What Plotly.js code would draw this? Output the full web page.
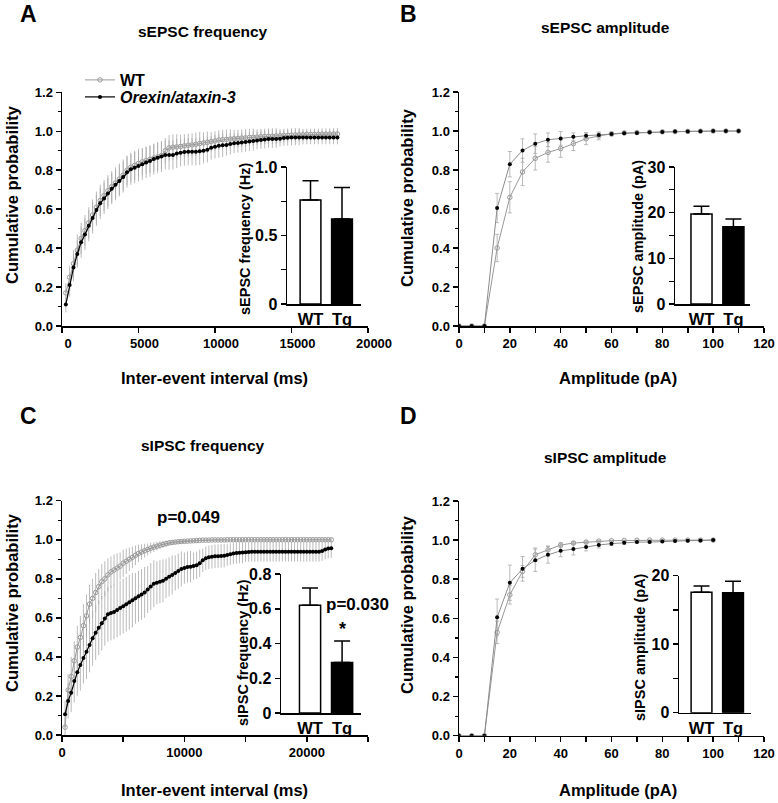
<!DOCTYPE html>
<html>
<head>
<meta charset="utf-8">
<script src="https://cdn.plot.ly/plotly-3.0.1.min.js"></script>
<style>
  html, body { margin: 0; padding: 0; background: #fff; }
  #fig { width: 778px; height: 803px; }
</style>
</head>
<body>
<div id="fig"></div>
<script>
/* ── data ─────────────────────────────────────────────── */

// A: sEPSC inter-event interval, 250 ms bins
const epscFreqX = Array.from({ length: 72 }, (_, i) => (i + 1) * 250);
const epscFreqWT = [0.17,0.25,0.32,0.39,0.45,0.49,0.53,0.57,0.61,0.645,
  0.67,0.695,0.715,0.735,0.755,0.775,0.80,0.815,0.825,0.835,
  0.843,0.85,0.856,0.862,0.868,0.875,0.90,0.915,0.918,0.92,
  0.922,0.925,0.928,0.93,0.933,0.937,0.94,0.943,0.947,0.95,
  0.955,0.957,0.958,0.96,0.962,0.963,0.965,0.966,0.968,0.969,
  0.97,0.972,0.973,0.974,0.975,0.976,0.977,0.978,0.979,0.98,
  0.981,0.982,0.982,0.983,0.983,0.984,0.984,0.985,0.985,0.985,0.986,0.986];
const epscFreqWTErr = [0.05,0.06,0.07,0.08,0.08,0.08,0.08,0.08,0.08,0.08,
  0.08,0.08,0.08,0.08,0.08,0.08,0.075,0.075,0.075,0.075,
  0.07,0.07,0.07,0.07,0.07,0.07,0.065,0.065,0.065,0.065,
  0.06,0.06,0.06,0.06,0.06,0.06,0.055,0.055,0.05,0.05,
  0.05,0.05,0.05,0.05,0.045,0.045,0.045,0.045,0.045,0.045,
  0.04,0.04,0.04,0.04,0.04,0.04,0.035,0.035,0.035,0.035,
  0.035,0.035,0.03,0.03,0.03,0.03,0.03,0.03,0.03,0.03,0.03,0.03];
const epscFreqTg = [0.11,0.21,0.30,0.37,0.43,0.47,0.515,0.555,0.595,0.63,
  0.655,0.68,0.705,0.725,0.745,0.765,0.79,0.805,0.813,0.822,
  0.83,0.84,0.847,0.857,0.864,0.87,0.878,0.878,0.878,0.886,
  0.89,0.893,0.895,0.895,0.895,0.897,0.90,0.905,0.915,0.92,
  0.925,0.928,0.93,0.935,0.938,0.94,0.942,0.945,0.948,0.95,
  0.952,0.955,0.957,0.96,0.96,0.96,0.962,0.965,0.967,0.968,
  0.968,0.968,0.968,0.968,0.968,0.968,0.968,0.968,0.968,0.968,0.968,0.968];
const epscFreqTgErr = [0.04,0.06,0.07,0.07,0.08,0.08,0.08,0.08,0.08,0.08,
  0.08,0.08,0.08,0.08,0.08,0.08,0.08,0.08,0.08,0.08,
  0.08,0.08,0.08,0.08,0.08,0.08,0.075,0.075,0.075,0.075,
  0.07,0.07,0.07,0.07,0.07,0.07,0.065,0.065,0.06,0.06,
  0.06,0.06,0.055,0.055,0.05,0.05,0.05,0.05,0.05,0.05,
  0.045,0.045,0.045,0.045,0.045,0.045,0.04,0.04,0.04,0.04,
  0.04,0.04,0.035,0.035,0.035,0.035,0.035,0.035,0.035,0.035,0.035,0.035];

// B: sEPSC amplitude, 5 pA bins
const epscAmpX = Array.from({ length: 23 }, (_, i) => i * 5);
const epscAmpWT = [0,0,0,0.40,0.66,0.79,0.86,0.89,0.91,0.935,0.96,0.975,0.985,0.99,0.992,0.994,0.996,0.997,0.998,0.999,1,1,1];
const epscAmpWTErr = [0,0,0,0.07,0.08,0.07,0.06,0.05,0.045,0.035,0.03,0.02,0.01,0.008,0.006,0.005,0.004,0.003,0.002,0.001,0,0,0];
const epscAmpTg = [0,0,0,0.605,0.83,0.90,0.935,0.955,0.962,0.97,0.976,0.98,0.985,0.988,0.99,0.993,0.995,0.997,0.998,0.999,1,1,1];
const epscAmpTgErr = [0,0,0,0.075,0.065,0.06,0.05,0.035,0.035,0.02,0.015,0.01,0.008,0.006,0.005,0.004,0.003,0.002,0.001,0,0,0,0];

// C: sIPSC inter-event interval, 250 ms bins
const ipscFreqX = Array.from({ length: 88 }, (_, i) => (i + 1) * 250);
const ipscFreqWT = [0.04,0.23,0.30,0.38,0.45,0.50,0.56,0.61,0.67,0.70,0.73,0.76,0.785,0.80,0.82,
  0.835,0.845,0.855,0.865,0.88,0.89,0.90,0.91,0.92,0.93,0.937,0.944,0.95,0.957,0.962,
  0.967,0.972,0.976,0.98,0.984,0.986,0.988,0.99,0.991,0.992,0.993,0.994,0.995,0.996,0.997,
  0.998,0.998,0.998,0.999,0.999,0.999,0.999,0.999,1,1,1,1,1,1,1,
  1,1,1,1,1,1,1,1,1,1,1,1,1,1,1,
  1,1,1,1,1,1,1,1,1,1,1,1,1];
const ipscFreqWTErr = [0.05,0.08,0.1,0.1,0.11,0.11,0.11,0.11,0.1,0.1,0.1,0.09,0.09,0.09,0.085,
  0.08,0.08,0.075,0.07,0.07,0.065,0.06,0.055,0.05,0.045,0.04,0.035,0.03,0.028,0.025,
  0.022,0.02,0.018,0.016,0.014,0.012,0.01,0.009,0.008,0.007,0.006,0.005,0.005,0.004,0.003,
  0.003,0.003,0.003,0.002,0.002,0.002,0.002,0.002,0,0,0,0,0,0,0,
  0,0,0,0,0,0,0,0,0,0,0,0,0,0,0,
  0,0,0,0,0,0,0,0,0,0,0,0,0];
const ipscFreqTg = [0.106,0.174,0.217,0.276,0.321,0.358,0.394,0.427,0.461,0.495,0.524,0.549,0.572,0.597,0.618,
  0.625,0.63,0.64,0.65,0.66,0.67,0.68,0.69,0.70,0.71,0.72,0.73,0.745,0.76,0.775,
  0.78,0.785,0.79,0.80,0.81,0.82,0.83,0.84,0.85,0.855,0.86,0.862,0.865,0.87,0.88,
  0.895,0.905,0.91,0.913,0.915,0.916,0.917,0.918,0.922,0.926,0.93,0.932,0.934,0.935,0.936,
  0.937,0.938,0.938,0.938,0.938,0.938,0.938,0.938,0.938,0.938,0.938,0.938,0.938,0.938,0.938,
  0.938,0.938,0.938,0.938,0.938,0.938,0.938,0.938,0.938,0.942,0.95,0.955,0.957];
const ipscFreqTgErr = [0.07,0.09,0.1,0.11,0.12,0.13,0.13,0.14,0.14,0.14,0.14,0.14,0.14,0.14,0.14,
  0.14,0.14,0.14,0.14,0.14,0.14,0.14,0.14,0.13,0.13,0.13,0.13,0.12,0.12,0.12,
  0.11,0.11,0.11,0.1,0.1,0.1,0.09,0.09,0.09,0.08,0.08,0.08,0.07,0.07,0.07,
  0.06,0.06,0.06,0.06,0.06,0.06,0.06,0.06,0.055,0.055,0.055,0.055,0.055,0.055,0.05,
  0.05,0.05,0.05,0.05,0.05,0.05,0.05,0.05,0.05,0.05,0.05,0.05,0.05,0.05,0.05,
  0.05,0.05,0.05,0.05,0.05,0.05,0.05,0.05,0.05,0.05,0.05,0.05,0.05];

// D: sIPSC amplitude, 5 pA bins
const ipscAmpX = Array.from({ length: 21 }, (_, i) => i * 5);
const ipscAmpWT = [0,0,0,0.528,0.72,0.84,0.925,0.95,0.975,0.985,0.99,0.995,0.997,0.998,0.999,1,1,1,1,1,1];
const ipscAmpWTErr = [0,0,0,0.057,0.047,0.03,0.035,0.02,0.012,0.008,0.005,0.003,0.002,0.001,0,0,0,0,0,0,0];
const ipscAmpTg = [0,0,0,0.605,0.782,0.853,0.897,0.925,0.945,0.954,0.965,0.975,0.982,0.986,0.99,0.99,0.993,0.996,0.997,0.998,1];
const ipscAmpTgErr = [0,0,0,0.094,0.09,0.063,0.057,0.043,0.03,0.03,0.02,0.015,0.01,0.008,0.006,0.005,0.004,0.003,0.002,0.001,0];

// inset bar charts (mean, SEM)
const groups = ['WT', 'Tg'];
const epscFreqMean = [0.76, 0.62];  const epscFreqSem = [0.14, 0.23];
const epscAmpMean  = [19.7, 16.9];  const epscAmpSem  = [1.7, 1.7];
const ipscFreqMean = [0.62, 0.29];  const ipscFreqSem = [0.10, 0.125];
const ipscAmpMean  = [17.6, 17.5];  const ipscAmpSem  = [0.9, 1.7];

/* ── helpers ──────────────────────────────────────────── */
const W = 778, H = 803;
const FONT = 'Liberation Sans, Arial, Helvetica, sans-serif';
const fx = p => p / W;
const fy = p => 1 - p / H;
const bold = (size) => ({ family: FONT, size, color: '#000', weight: 'bold' });

function curve(xa, ya, x, y, err, isTg, dense, legend) {
  return {
    type: 'scatter', mode: 'lines+markers',
    x, y, xaxis: xa, yaxis: ya,
    name: isTg ? '<i>Orexin/ataxin-3</i>' : 'WT',
    showlegend: !!legend, legend: legend || 'legend',
    line: { color: isTg ? (dense ? '#000' : '#8c8c8c') : '#999', width: isTg && dense ? 1.2 : 1 },
    marker: isTg
      ? { symbol: 'circle', size: 4, color: '#000' }
      : { symbol: 'circle-open', size: 4.5, color: '#999', line: { width: 1, color: '#999' } },
    error_y: {
      type: 'data', array: err, visible: true,
      color: '#a8a8a8', thickness: 0.8, width: dense ? 0 : 2,
    },
    hoverinfo: 'skip',
  };
}

function bars(xa, ya, mean, sem) {
  return {
    type: 'bar', x: groups, y: mean, xaxis: xa, yaxis: ya,
    width: 0.66, showlegend: false, hoverinfo: 'skip',
    marker: { color: ['#fff', '#000'], line: { color: '#000', width: 1.5 } },
    error_y: {
      type: 'data', symmetric: false, array: sem, arrayminus: [0, 0],
      color: '#000', thickness: 1.5, width: 8, visible: true,
    },
  };
}

const mainY = (dom) => ({
  domain: dom, range: [0, 1.2], showline: true, linewidth: 1.5, linecolor: '#000',
  ticks: 'outside', ticklen: 5, tickwidth: 1.5, tickcolor: '#000',
  tickvals: [0, 0.2, 0.4, 0.6, 0.8, 1.0, 1.2], tickformat: '.1f',
  minor: { tickvals: [0.1, 0.3, 0.5, 0.7, 0.9, 1.1], ticks: 'outside', ticklen: 3, tickwidth: 1.2, tickcolor: '#000' },
  tickfont: bold(13), showgrid: false, zeroline: false, fixedrange: true,
});

const mainX = (dom, anchor, range, vals, text, shift) => ({
  domain: dom, anchor, range, showline: true, linewidth: 1.5, linecolor: '#000',
  ticks: 'outside', ticklen: 5, tickwidth: 1.5, tickcolor: '#000',
  tickvals: vals, ticktext: text, ticklabelshift: shift || 0,
  tickfont: bold(13), showgrid: false, zeroline: false, fixedrange: true,
});

const insetX = (dom, anchor, range) => ({
  domain: dom, anchor, range, type: 'category', showline: true, linewidth: 1.5, linecolor: '#000',
  ticks: '', tickfont: bold(16.5), showgrid: false, zeroline: false, fixedrange: true,
});

const insetY = (dom, anchor, range, vals, text, minorStep) => ({
  domain: dom, anchor, range, showline: true, linewidth: 1.5, linecolor: '#000',
  ticks: 'outside', ticklen: 5, tickwidth: 1.5, tickcolor: '#000',
  tickvals: vals, ticktext: text,
  minor: minorStep ? { dtick: minorStep, tick0: 0, ticks: 'outside', ticklen: 5, tickwidth: 1.2, tickcolor: '#000' } : undefined,
  tickfont: bold(16), showgrid: false, zeroline: false, fixedrange: true,
});

const ampVals = [0, 10, 20, 30, 40, 50, 60, 70, 80, 90, 100, 110, 120];
const ampText = ['0', '', '20', '', '40', '', '60', '', '80', '', '100', '', '120'];

/* ── traces ───────────────────────────────────────────── */
const traces = [
  curve('x', 'y', epscFreqX, epscFreqWT, epscFreqWTErr, false, true, 'legend'),
  curve('x', 'y', epscFreqX, epscFreqTg, epscFreqTgErr, true, true, 'legend2'),
  bars('x2', 'y2', epscFreqMean, epscFreqSem),

  curve('x3', 'y3', epscAmpX, epscAmpWT, epscAmpWTErr, false, false),
  curve('x3', 'y3', epscAmpX, epscAmpTg, epscAmpTgErr, true, false),
  bars('x4', 'y4', epscAmpMean, epscAmpSem),

  curve('x5', 'y5', ipscFreqX, ipscFreqWT, ipscFreqWTErr, false, true),
  curve('x5', 'y5', ipscFreqX, ipscFreqTg, ipscFreqTgErr, true, true),
  bars('x6', 'y6', ipscFreqMean, ipscFreqSem),

  curve('x7', 'y7', ipscAmpX, ipscAmpWT, ipscAmpWTErr, false, false),
  curve('x7', 'y7', ipscAmpX, ipscAmpTg, ipscAmpTgErr, true, false),
  bars('x8', 'y8', ipscAmpMean, ipscAmpSem),
];

/* ── annotations ──────────────────────────────────────── */
const txt = (text, x, y, size, extra = {}) => ({
  text, x: fx(x), y: fy(y), xref: 'paper', yref: 'paper',
  showarrow: false, xanchor: 'center', yanchor: 'middle', font: bold(size), ...extra,
});

const annotations = [
  txt('A', 28, 14, 23), txt('B', 408, 14, 23), txt('C', 28, 416, 23), txt('D', 408, 416, 23),
  txt('sEPSC frequency', 203, 31, 15.5), txt('sEPSC amplitude', 605, 27, 15.5),
  txt('sIPSC frequency', 203, 445, 15.5), txt('sIPSC amplitude', 605, 457, 15.5),
  txt('Inter-event interval (ms)', 214, 378, 16.5), txt('Amplitude (pA)', 618, 378, 16.5),
  txt('Inter-event interval (ms)', 214, 790, 16.5), txt('Amplitude (pA)', 618, 790, 16.5),
  txt('Cumulative probability', 12, 195, 16.5, { textangle: -90 }),
  txt('Cumulative probability', 407, 198, 16.5, { textangle: -90 }),
  txt('Cumulative probability', 12, 603, 16.5, { textangle: -90 }),
  txt('Cumulative probability', 407, 605, 16.5, { textangle: -90 }),
  txt('sEPSC frequency (Hz)', 245, 239, 14.5, { textangle: -90 }),
  txt('sEPSC amplitude (pA)', 638, 237, 14.5, { textangle: -90 }),
  txt('sIPSC frequency (Hz)', 243, 652, 14.5, { textangle: -90 }),
  txt('sIPSC amplitude (pA)', 640, 647, 14.5, { textangle: -90 }),
  txt('p=0.049', 188, 517, 17),
  txt('p=0.030', 357, 604, 17),
  {
    text: '*', x: 'Tg', y: ipscFreqMean[1] + ipscFreqSem[1], xref: 'x6', yref: 'y6',
    showarrow: false, yanchor: 'bottom', yshift: 0, font: bold(18),
  },
];

/* ── layout ───────────────────────────────────────────── */
const legendBox = (ypx) => ({
  x: fx(80), y: fy(ypx), xanchor: 'left', yanchor: 'middle',
  bgcolor: 'rgba(0,0,0,0)', font: bold(16), itemwidth: 30,
});

const layout = {
  width: W, height: H,
  margin: { l: 0, r: 0, t: 0, b: 0 },
  paper_bgcolor: '#fff', plot_bgcolor: 'rgba(0,0,0,0)',
  font: { family: FONT, color: '#000' },
  barmode: 'overlay',
  showlegend: true,
  legend: legendBox(80),
  legend2: legendBox(97),
  // A
  xaxis:  mainX([fx(62), fx(368)], 'y', [0, 20000], [0, 5000, 10000, 15000, 20000], ['0', '5000', '10000', '15000', '20000'], 6),
  yaxis:  { ...mainY([fy(326), fy(92.3)]), anchor: 'x' },
  xaxis2: insetX([fx(287), fx(361)], 'y2', [-0.746, 1.603]),
  yaxis2: insetY([fy(304), fy(167)], 'x2', [0, 1], [0, 0.5, 1], ['0', '0.5', '1.0'], 0.25),
  // B
  xaxis3: mainX([fx(459), fx(764)], 'y3', [0, 120], ampVals, ampText),
  yaxis3: { ...mainY([fy(326), fy(92)]), anchor: 'x3' },
  xaxis4: insetX([fx(675), fx(750)], 'y4', [-0.83, 1.52]),
  yaxis4: insetY([fy(304), fy(167)], 'x4', [0, 30], [0, 10, 20, 30], ['0', '10', '20', '30'], 5),
  // C
  xaxis5: mainX([fx(62), fx(368)], 'y5', [0, 25000], [0, 5000, 10000, 15000, 20000, 25000], ['0', '', '10000', '', '20000', '']),
  yaxis5: { ...mainY([fy(735), fy(500.7)]), anchor: 'x5' },
  xaxis6: insetX([fx(281), fx(361)], 'y6', [-0.906, 1.59]),
  yaxis6: insetY([fy(713), fy(574)], 'x6', [0, 0.8], [0, 0.2, 0.4, 0.6, 0.8], ['0', '0.2', '0.4', '0.6', '0.8']),
  // D
  xaxis7: mainX([fx(459), fx(764)], 'y7', [0, 120], ampVals, ampText),
  yaxis7: { ...mainY([fy(735.7), fy(501)]), anchor: 'x7' },
  xaxis8: insetX([fx(679), fx(751)], 'y8', [-0.714, 1.57]),
  yaxis8: insetY([fy(712.7), fy(575.7)], 'x8', [0, 20], [0, 10, 20], ['0', '10', '20'], 5),
  annotations,
};

Plotly.newPlot('fig', traces, layout, { displayModeBar: false, staticPlot: true });
</script>
</body>
</html>
